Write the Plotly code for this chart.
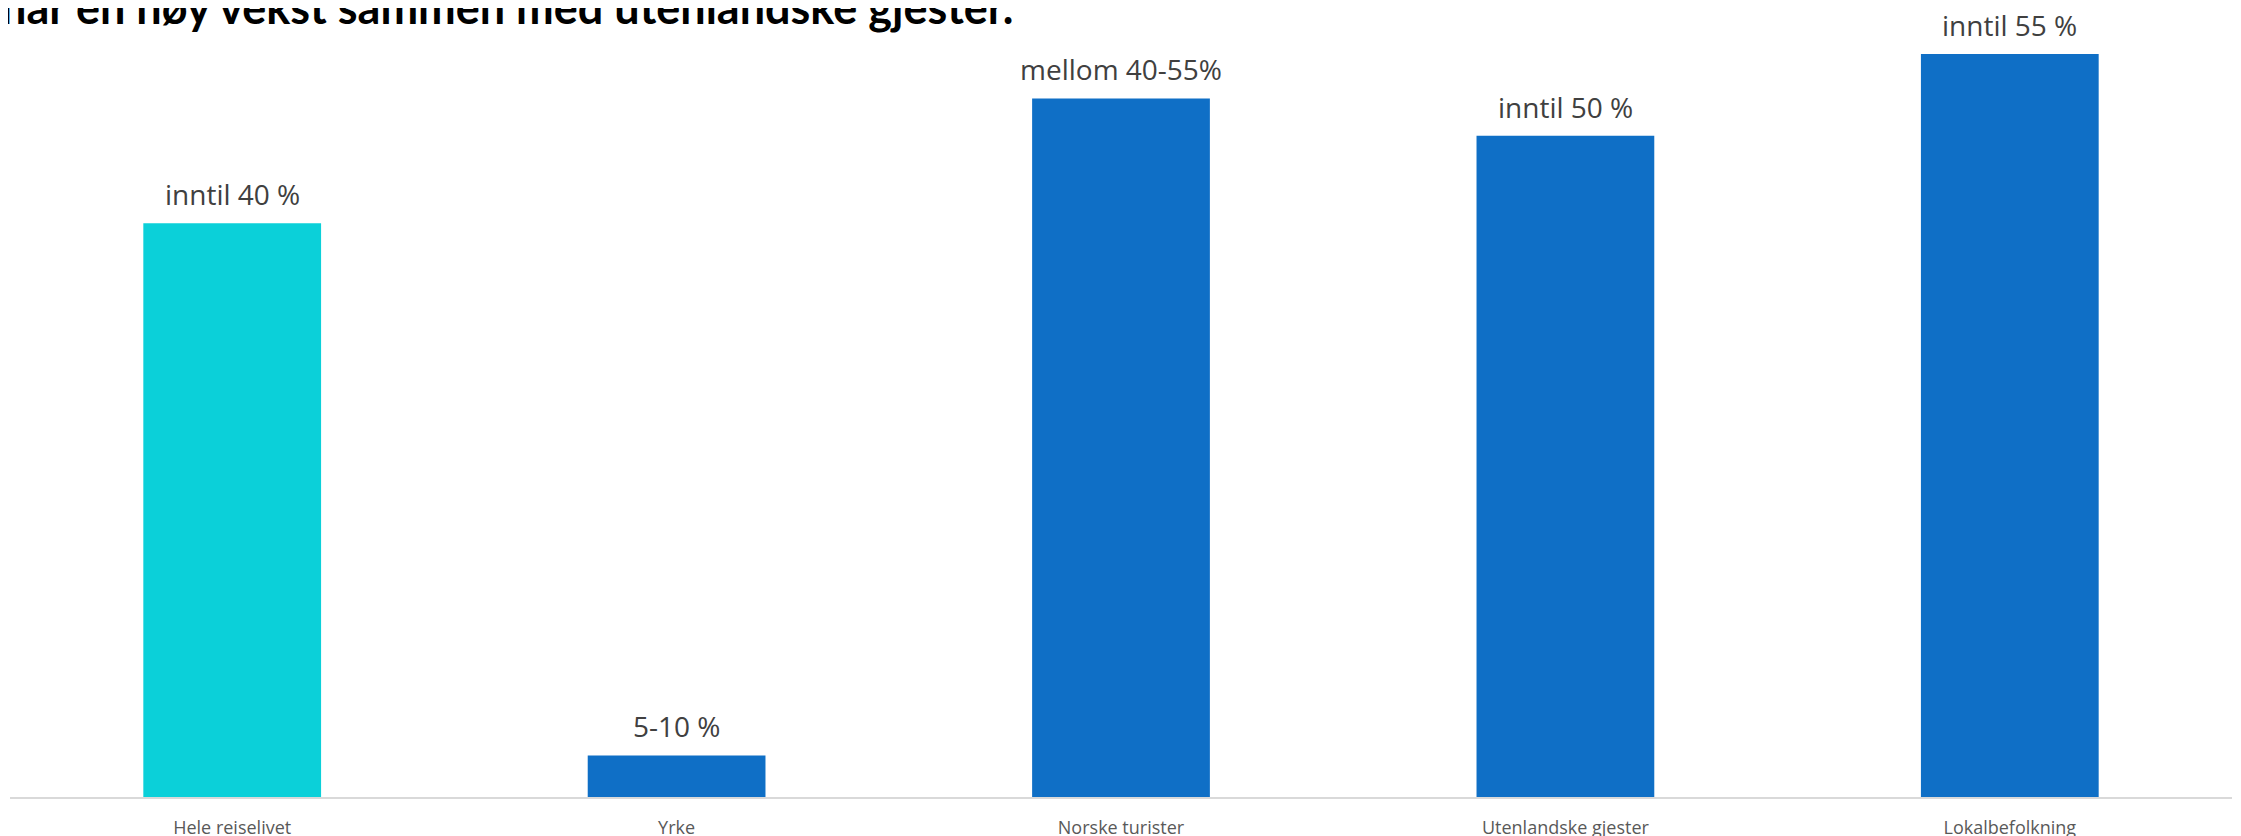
import plotly.graph_objects as go

categories = ["Hele reiselivet", "Yrke", "Norske turister", "Utenlandske gjester", "Lokalbefolkning"]
values = [40, 2.9, 48.7, 46.1, 51.8]
value_labels = ["inntil 40 %", "5-10 %", "mellom 40-55%", "inntil 50 %", "inntil 55 %"]
bar_colors = ["#0BD0D9", "#0F6FC6", "#0F6FC6", "#0F6FC6", "#0F6FC6"]
title_text = "har en høy vekst sammen med utenlandske gjester."

fig = go.Figure()
fig.add_trace(go.Bar(x=categories, y=values, marker=dict(color=bar_colors, line=dict(width=0)),
                     hoverinfo="skip"))

for c, v, t in zip(categories, values, value_labels):
    fig.add_annotation(x=c, y=v, text=t, showarrow=False, xanchor="center", yanchor="bottom",
                       yshift=8, font=dict(family="Open Sans", size=28, color="#404040"))

fig.add_annotation(xref="paper", yref="paper", x=0, y=1, xshift=-11, yshift=-28,
                   xanchor="left", yanchor="bottom", showarrow=False, text="<b>" + title_text + "</b>",
                   font=dict(family="Lato", size=45, color="#000000"))

fig.update_layout(
    width=2241, height=836,
    margin=dict(l=2, r=17, t=0, b=47, autoexpand=False),
    paper_bgcolor="white", plot_bgcolor="white",
    bargap=0.6, showlegend=False,
    xaxis=dict(showline=True, linecolor="#D9D9D9", linewidth=1.5, showgrid=False, zeroline=False,
               ticks="", ticklabelstandoff=14, automargin=False,
               tickfont=dict(family="Open Sans", size=18, color="#595959")),
    yaxis=dict(range=[0, 55], visible=False, showgrid=False, zeroline=False, automargin=False),
)

fig.write_html("out.html")
